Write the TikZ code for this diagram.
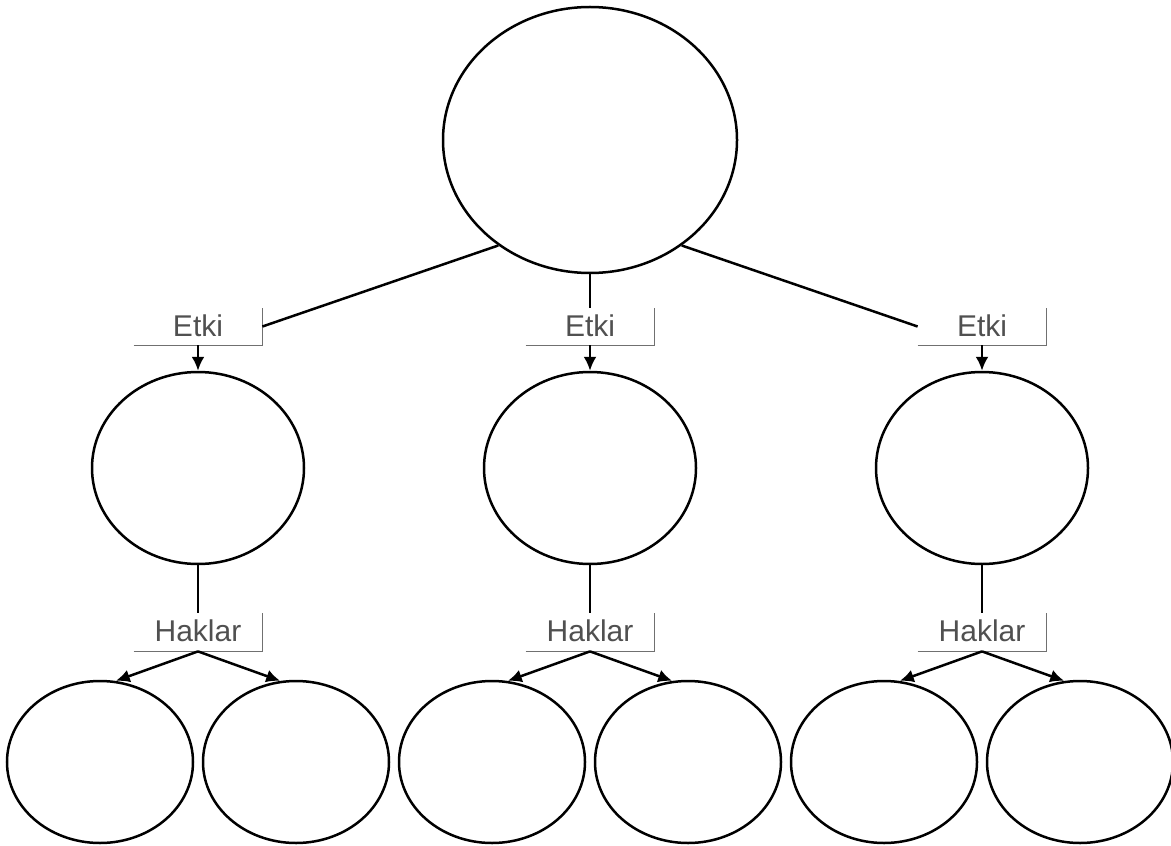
\documentclass[tikz,border=0pt]{standalone}
\usepackage{fontspec}
\setmainfont{Liberation Sans}
\usetikzlibrary{arrows.meta,shapes.geometric}
\definecolor{labgray}{HTML}{505050}
\definecolor{brgray}{HTML}{707070}
\begin{document}
\begin{tikzpicture}[x=0.5pt,y=-0.5pt,
  ell/.style={draw=black, line width=1.25pt, ellipse, inner sep=0pt},
  lab/.style={inner sep=0pt, minimum width=64pt, minimum height=18.5pt, text=labgray, font=\fontsize{15pt}{17pt}\selectfont},
  bracket/.style={draw=brgray, line width=0.8pt},
  conn/.style={draw=black, line width=1.25pt},
  arr/.style={conn, -{Latex[length=7pt,width=6.5pt]}}]
\useasboundingbox (0,0) rectangle (1171,845);
\node[ell, minimum width=147pt, minimum height=133pt] (top) at (590,140) {};
\foreach \i/\cx in {1/198, 2/590, 3/982} {
  \node[lab] (e\i) at (\cx,326.5) {\raisebox{1pt}{Etki}};
  \draw[bracket] (e\i.south west) -- (e\i.south east) -- (e\i.north east);
  \node[ell, minimum width=106pt, minimum height=96pt] (m\i) at (\cx,468) {};
  \node[lab, minimum height=19pt] (h\i) at (\cx,632) {\raisebox{1pt}{Haklar}};
  \draw[bracket] (h\i.south west) -- (h\i.south east) -- (h\i.north east);
  \node[ell, minimum width=93pt, minimum height=81pt] (b\i a) at (\cx-98,762) {};
  \node[ell, minimum width=93pt, minimum height=81pt] (b\i b) at (\cx+98,762) {};
  \draw[arr] (e\i.south) -- (m\i.north);
  \draw[conn] (m\i.south) -- (h\i.north);
  \draw[arr] (h\i.south) -- (b\i a.79);
  \draw[arr] (h\i.south) -- (b\i b.101);
}
\draw[conn] (top.229) -- (e1.east);
\draw[conn] (top.south) -- (e2.north);
\draw[conn] (top.311) -- (e3.west);
\end{tikzpicture}
\end{document}
